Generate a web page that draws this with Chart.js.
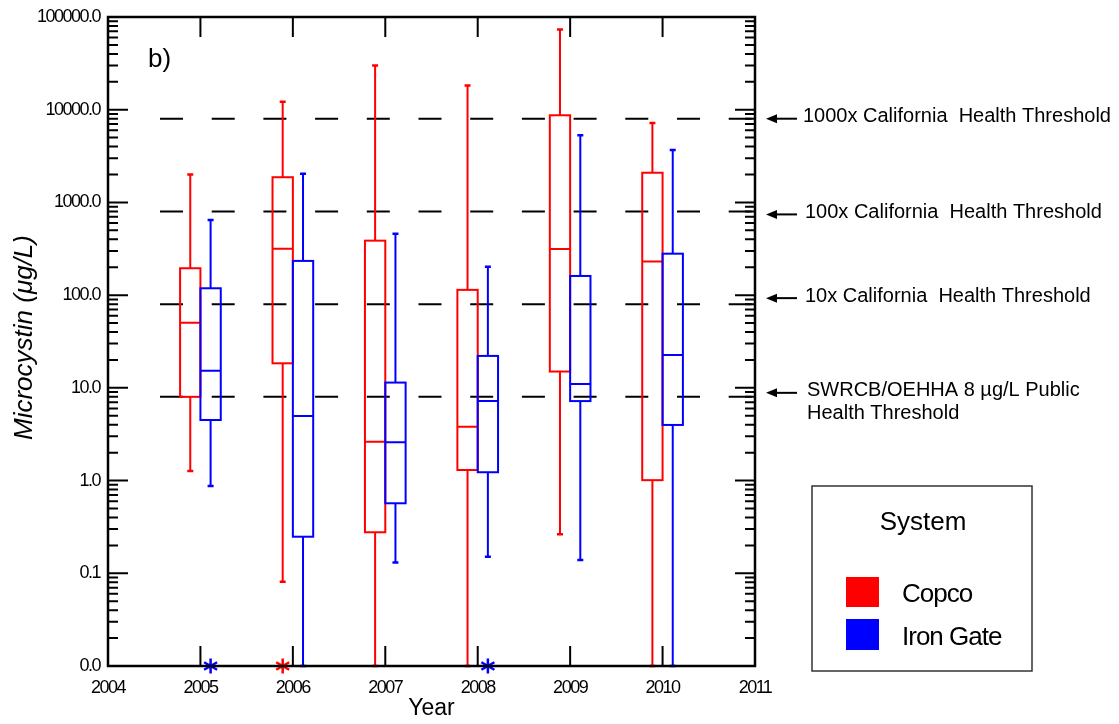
<!DOCTYPE html>
<html>
<head>
<meta charset="utf-8">
<title>Microcystin by year</title>
<script src="https://cdn.jsdelivr.net/npm/chart.js@4.4.1/dist/chart.umd.min.js"></script>
<style>
  html, body { margin: 0; padding: 0; background: #fff; }
  canvas { display: block; }
</style>
</head>
<body>
<canvas id="chart" width="1119" height="724"></canvas>
<script>
// data (values of 0.01 sit on the "0.0" floor)
const years = [2005, 2006, 2007, 2008, 2009, 2010];

const copcoMin    = [1.27, 0.081, 0.01, 0.01, 0.263, 0.01];
const copcoQ1     = [8.0, 18.4, 0.277, 1.30, 15.0, 1.01];
const copcoMedian = [50.5, 316, 2.63, 3.8, 315, 230];
const copcoQ3     = [195, 1870, 387, 114, 8710, 2090];
const copcoMax    = [2000, 12200, 29900, 18200, 73100, 7200];

const ironMin    = [0.875, 0.01, 0.131, 0.151, 0.139, 0.01];
const ironQ1     = [4.5, 0.248, 0.569, 1.23, 7.2, 3.98];
const ironMedian = [15.3, 4.98, 2.59, 7.22, 11.0, 22.6];
const ironQ3     = [118.6, 234, 11.4, 22.1, 161, 280];
const ironMax    = [647, 2040, 460, 203, 5300, 3680];

const copcoOutlierYears = [2006];
const copcoOutliers     = [0.01];
const ironOutlierYears  = [2005, 2008];
const ironOutliers      = [0.01, 0.01];

const thresholds = [8, 80, 800, 8000];
const thresholdLabels = [
  ['SWRCB/OEHHA 8 µg/L Public', 'Health Threshold'],
  ['10x California  Health Threshold'],
  ['100x California  Health Threshold'],
  ['1000x California  Health Threshold']
];
// small vertical nudges (px) of the side notes relative to their line
const noteNudge = [-4, -6, 3, 0];
const noteX = [807, 805, 805, 803];

const yTicks = [];
for (let e = -2; e <= 5; e++) {
  for (let m = 1; m <= 9; m++) {
    if (e === 5 && m > 1) break;
    yTicks.push(m * Math.pow(10, e));
  }
}

const FONT = "'Liberation Sans', Arial, sans-serif";
const RED = '#ff0000';
const BLUE = '#0000ff';
const isDecade = v => Math.abs(Math.log10(v) - Math.round(Math.log10(v))) < 1e-9;

function drawBox(ctx, x, y, cx, lo, q1, med, q3, hi, color) {
  const half = 0.11;
  const l = x.getPixelForValue(cx - half);
  const r = x.getPixelForValue(cx + half);
  const m = x.getPixelForValue(cx);
  const yLo = y.getPixelForValue(lo), yQ1 = y.getPixelForValue(q1);
  const yMed = y.getPixelForValue(med), yQ3 = y.getPixelForValue(q3);
  const yHi = y.getPixelForValue(hi);
  ctx.strokeStyle = color;
  ctx.lineWidth = 2;
  ctx.strokeRect(l, yQ3, r - l, yQ1 - yQ3);
  ctx.beginPath();
  ctx.moveTo(l, yMed); ctx.lineTo(r, yMed);
  ctx.moveTo(m, yQ3); ctx.lineTo(m, yHi);
  ctx.moveTo(m, yQ1); ctx.lineTo(m, yLo);
  ctx.stroke();
  ctx.lineWidth = 2.5;
  ctx.beginPath();
  ctx.moveTo(m - 3, yHi); ctx.lineTo(m + 3, yHi);
  ctx.moveTo(m - 3, yLo); ctx.lineTo(m + 3, yLo);
  ctx.stroke();
}

function drawStar(ctx, px, py, color) {
  const r = 7.5;
  ctx.strokeStyle = color;
  ctx.lineWidth = 2.5;
  ctx.beginPath();
  [90, 30, 150].forEach(deg => {
    const a = deg * Math.PI / 180;
    ctx.moveTo(px - r * Math.cos(a), py - r * Math.sin(a));
    ctx.lineTo(px + r * Math.cos(a), py + r * Math.sin(a));
  });
  ctx.stroke();
}

const boxPlots = {
  id: 'boxPlots',
  beforeDraw(chart) {
    chart.ctx.letterSpacing = '-1.5px';
  },
  afterDraw(chart) {
    const {ctx, chartArea: a, scales: {x, y}} = chart;
    ctx.save();
    ctx.letterSpacing = '0px';

    // threshold lines
    ctx.strokeStyle = '#000';
    ctx.lineWidth = 2;
    ctx.setLineDash([23, 28.7]);
    thresholds.forEach(v => {
      const py = y.getPixelForValue(v);
      ctx.beginPath();
      ctx.moveTo(a.left + 52, py);
      ctx.lineTo(a.right, py);
      ctx.stroke();
    });
    ctx.setLineDash([]);

    // boxes
    years.forEach((yr, i) => {
      drawBox(ctx, x, y, yr - 0.11, copcoMin[i], copcoQ1[i], copcoMedian[i], copcoQ3[i], copcoMax[i], RED);
      drawBox(ctx, x, y, yr + 0.11, ironMin[i], ironQ1[i], ironMedian[i], ironQ3[i], ironMax[i], BLUE);
    });
    copcoOutlierYears.forEach((yr, i) => drawStar(ctx, x.getPixelForValue(yr - 0.11), y.getPixelForValue(copcoOutliers[i]), RED));
    ironOutlierYears.forEach((yr, i) => drawStar(ctx, x.getPixelForValue(yr + 0.11), y.getPixelForValue(ironOutliers[i]), BLUE));

    // frame and inward ticks
    ctx.strokeStyle = '#000';
    ctx.lineWidth = 2;
    y.ticks.forEach(t => {
      const py = y.getPixelForValue(t.value);
      const len = isDecade(t.value) ? 20 : 10;
      ctx.beginPath();
      ctx.moveTo(a.left, py); ctx.lineTo(a.left + len, py);
      ctx.moveTo(a.right - len, py); ctx.lineTo(a.right, py);
      ctx.stroke();
    });
    x.ticks.forEach(t => {
      const px = x.getPixelForValue(t.value);
      ctx.beginPath();
      ctx.moveTo(px, a.top); ctx.lineTo(px, a.top + 20);
      ctx.moveTo(px, a.bottom - 20); ctx.lineTo(px, a.bottom);
      ctx.stroke();
    });
    ctx.lineWidth = 2.5;
    ctx.strokeRect(a.left, a.top, a.right - a.left, a.bottom - a.top);

    // axis titles and panel letter
    ctx.fillStyle = '#000';
    ctx.textAlign = 'center';
    ctx.textBaseline = 'middle';
    ctx.font = '23px ' + FONT;
    ctx.fillText('Year', (a.left + a.right) / 2, 709);
    ctx.save();
    ctx.translate(25, (a.top + a.bottom) / 2 - 4);
    ctx.rotate(-Math.PI / 2);
    ctx.font = 'italic 26px ' + FONT;
    ctx.fillText('Microcystin (μg/L)', 0, 0);
    ctx.restore();
    ctx.textAlign = 'left';
    ctx.textBaseline = 'alphabetic';
    ctx.font = '26px ' + FONT;
    ctx.fillText('b)', 148, 67);

    // side notes with arrows
    ctx.font = '20px ' + FONT;
    ctx.textBaseline = 'middle';
    thresholds.forEach((v, i) => {
      const py = y.getPixelForValue(v) + noteNudge[i];
      ctx.strokeStyle = '#000';
      ctx.lineWidth = 2;
      ctx.beginPath();
      ctx.moveTo(774, py); ctx.lineTo(797, py);
      ctx.stroke();
      ctx.beginPath();
      ctx.moveTo(766, py); ctx.lineTo(777, py - 4.5); ctx.lineTo(777, py + 4.5);
      ctx.closePath();
      ctx.fill();
      thresholdLabels[i].forEach((line, k) => ctx.fillText(line, noteX[i], py - 2 + k * 22.5));
    });

    // legend
    ctx.strokeStyle = '#333';
    ctx.lineWidth = 1.5;
    ctx.strokeRect(812, 486, 220, 185);
    ctx.textAlign = 'center';
    ctx.textBaseline = 'alphabetic';
    ctx.font = '26px ' + FONT;
    ctx.fillText('System', 923, 530);
    ctx.fillStyle = RED;
    ctx.fillRect(846, 577, 33, 30);
    ctx.fillStyle = BLUE;
    ctx.fillRect(846, 619, 33, 31);
    ctx.fillStyle = '#000';
    ctx.textAlign = 'left';
    ctx.letterSpacing = '-1px';
    ctx.fillText('Copco', 902, 602);
    ctx.fillText('Iron Gate', 902, 645);
    ctx.restore();
  }
};

new Chart(document.getElementById('chart'), {
  type: 'scatter',
  data: { datasets: [] },
  options: {
    responsive: false,
    animation: false,
    events: [],
    layout: { padding: { top: 17, right: 364, left: 0, bottom: 0 } },
    plugins: { legend: { display: false }, tooltip: { enabled: false } },
    scales: {
      x: {
        type: 'linear',
        min: 2004,
        max: 2011,
        grid: { display: false, drawTicks: false },
        border: { display: false },
        ticks: {
          stepSize: 1,
          padding: 11,
          color: '#000',
          autoSkip: false,
          maxRotation: 0,
          font: { family: FONT, size: 18 },
          callback: v => String(v)
        },
        afterFit: s => { s.height = 58; s.paddingLeft = 0; s.paddingRight = 0; }
      },
      y: {
        type: 'logarithmic',
        min: 0.01,
        max: 100000,
        grid: { display: false, drawTicks: false },
        border: { display: false },
        afterBuildTicks: s => { s.ticks = yTicks.map(v => ({ value: v })); },
        ticks: {
          padding: 8,
          color: '#000',
          autoSkip: false,
          font: { family: FONT, size: 18 },
          callback: v => isDecade(v) ? v.toFixed(1) : ''
        },
        afterFit: s => { s.width = 108; s.paddingTop = 0; s.paddingBottom = 0; }
      }
    }
  },
  plugins: [boxPlots]
});
</script>
</body>
</html>
